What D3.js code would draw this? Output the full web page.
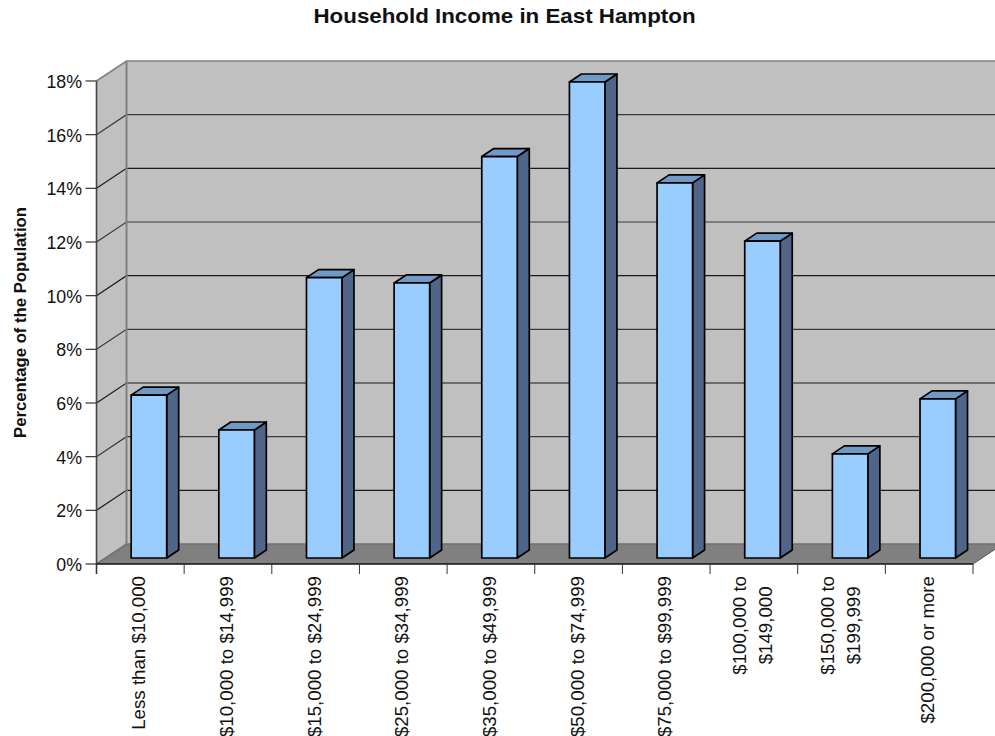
<!DOCTYPE html>
<html>
<head>
<meta charset="utf-8">
<script src="https://cdn.jsdelivr.net/npm/d3@7/dist/d3.min.js"></script>
<style>
html,body{margin:0;padding:0;background:#fff;overflow:hidden}
svg{display:block}
text{font-family:"Liberation Sans",Arial,sans-serif;fill:#111}
</style>
</head>
<body>
<svg id="chart" width="995" height="736"></svg>
<script>
// Household income shares, in percent
const categories = [
  ["Less than $10,000"],
  ["$10,000 to $14,999"],
  ["$15,000 to $24,999"],
  ["$25,000 to $34,999"],
  ["$35,000 to $49,999"],
  ["$50,000 to $74,999"],
  ["$75,000 to $99,999"],
  ["$100,000 to", "$149,000"],
  ["$150,000 to", "$199,999"],
  ["$200,000 or more"]
];
const shares = [6.07, 4.77, 10.45, 10.25, 14.96, 17.74, 13.98, 11.81, 3.88, 5.93];
const yTicks = [0, 2, 4, 6, 8, 10, 12, 14, 16, 18];

const svg = d3.select("#chart");

// Plot frame and the oblique offsets of the 3D box
const plotLeft = 96.5, plotRight = 973, plotTop = 81, plotBottom = 564;
const wallDx = 30, wallDy = -20;      // back wall offset from the axis plane
const barInsetDy = -6;                // bars stand slightly in from the front edge
const barDepthDx = 12, barDepthDy = -8;

const x = d3.scaleBand().domain(d3.range(categories.length)).range([plotLeft, plotRight]).padding(0);
const y = d3.scaleLinear().domain([0, 18]).range([plotBottom, plotTop]);
const barW = 35.5;

const wall = "#c0c0c0", floorFill = "#808080", edge = "#808080";

// Side wall, back wall, floor
const box = svg.append("g");
box.append("polygon").attr("fill", wall)
  .attr("points", [[plotLeft, y(0)], [plotLeft, y(18)], [plotLeft + wallDx, y(18) + wallDy], [plotLeft + wallDx, y(0) + wallDy]].join(" "));
box.append("rect").attr("fill", wall)
  .attr("x", plotLeft + wallDx).attr("y", y(18) + wallDy)
  .attr("width", 995 - plotLeft - wallDx).attr("height", y(0) - y(18));
box.append("polygon").attr("fill", floorFill)
  .attr("points", [[plotLeft, y(0)], [plotRight, y(0)], [plotRight + wallDx, y(0) + wallDy], [plotLeft + wallDx, y(0) + wallDy]].join(" "));

// Gridlines run along the side wall then across the back wall
const grid = svg.append("g").attr("fill", "none");
yTicks.forEach(t => {
  const outer = t === 18 || t === 0;
  const stroke = outer ? edge : (t % 4 === 0 ? "#3a3a3a" : "#1a1a1a");
  grid.append("path")
    .attr("d", d3.line()([[plotLeft, y(t)], [plotLeft + wallDx, y(t) + wallDy], [995, y(t) + wallDy]]))
    .attr("stroke", t === 0 ? "#707070" : stroke)
    .attr("stroke-width", outer ? 1.6 : 1.2);
});
grid.append("line")
  .attr("x1", plotLeft + wallDx).attr("x2", plotLeft + wallDx)
  .attr("y1", y(18) + wallDy).attr("y2", y(0) + wallDy)
  .attr("stroke", edge).attr("stroke-width", 2);
grid.append("line")
  .attr("x1", plotRight).attr("x2", 995)
  .attr("y1", y(0)).attr("y2", y(0) + wallDy * (995 - plotRight) / wallDx)
  .attr("stroke", "#555").attr("stroke-width", 1);

// Bars: right face, top face, then front face
const barBase = y(0) + barInsetDy;
const valueY = v => barBase - (y(0) - y(v));
const barX = i => x(i) + x.bandwidth() / 2 - barW / 2 + 8.6;

const bars = svg.append("g").attr("stroke", "#000").attr("stroke-width", 1.7).attr("stroke-linejoin", "round");
const barG = bars.selectAll("g").data(shares).join("g");

barG.append("polygon").attr("fill", "#4f6688")
  .attr("points", (d, i) => {
    const x1 = barX(i) + barW, yt = valueY(d);
    return [[x1, barBase], [x1, yt], [x1 + barDepthDx, yt + barDepthDy], [x1 + barDepthDx, barBase + barDepthDy]].join(" ");
  });
barG.append("polygon").attr("fill", "#7099c6")
  .attr("points", (d, i) => {
    const x0 = barX(i), x1 = x0 + barW, yt = valueY(d);
    return [[x0, yt], [x1, yt], [x1 + barDepthDx, yt + barDepthDy], [x0 + barDepthDx, yt + barDepthDy]].join(" ");
  });
barG.append("rect").attr("fill", "#99ccff")
  .attr("x", (d, i) => barX(i)).attr("y", d => valueY(d))
  .attr("width", barW).attr("height", d => barBase - valueY(d));

// Value axis
const yAxis = svg.append("g");
yAxis.append("line").attr("x1", plotLeft).attr("x2", plotLeft)
  .attr("y1", y(18)).attr("y2", y(0) + 10)
  .attr("stroke", "#444").attr("stroke-width", 1.6);
yAxis.selectAll("line.tick").data(yTicks).join("line").attr("class", "tick")
  .attr("x1", plotLeft - 11).attr("x2", plotLeft)
  .attr("y1", d => y(d)).attr("y2", d => y(d))
  .attr("stroke", "#333").attr("stroke-width", 1.2);
yAxis.selectAll("text").data(yTicks).join("text")
  .attr("x", 82).attr("y", d => y(d) + 7)
  .attr("text-anchor", "end").attr("font-size", 17.8)
  .text(d => d + "%");

// Category axis
const xAxis = svg.append("g");
xAxis.append("line").attr("x1", plotLeft).attr("x2", plotRight)
  .attr("y1", y(0)).attr("y2", y(0))
  .attr("stroke", "#111").attr("stroke-width", 1.4);
xAxis.selectAll("line.tick").data(d3.range(categories.length + 1)).join("line").attr("class", "tick")
  .attr("x1", i => plotLeft + i * x.bandwidth()).attr("x2", i => plotLeft + i * x.bandwidth())
  .attr("y1", y(0)).attr("y2", y(0) + 10)
  .attr("stroke", "#333").attr("stroke-width", 1);

// Rotated labels hang from just below the axis; wrapped lines centre on the longest one
const lineGap = 26, labelStart = 576;
const labels = xAxis.selectAll("text").data(categories).join("text")
  .attr("text-anchor", "middle").attr("font-size", 18.7)
  .attr("transform", (d, i) => `translate(${x(i) + x.bandwidth() / 2 + 5 - (d.length - 1) * lineGap / 2},0) rotate(-90)`);
labels.each(function () {
  const label = d3.select(this);
  const spans = label.selectAll("tspan").data(d => d).join("tspan")
    .attr("y", (d, i) => i * lineGap)
    .text(d => d);
  const longest = d3.max(spans.nodes(), n => n.getComputedTextLength());
  spans.attr("x", -(labelStart + longest / 2));
});

// Titles
svg.append("text")
  .attr("transform", "translate(504.5,22.5) scale(1.117,1)")
  .attr("text-anchor", "middle").attr("font-size", 20).attr("font-weight", "bold")
  .text("Household Income in East Hampton");
svg.append("text")
  .attr("transform", "translate(26,322.5) rotate(-90)")
  .attr("text-anchor", "middle").attr("font-size", 16.7).attr("font-weight", "bold")
  .text("Percentage of the Population");
</script>
</body>
</html>
